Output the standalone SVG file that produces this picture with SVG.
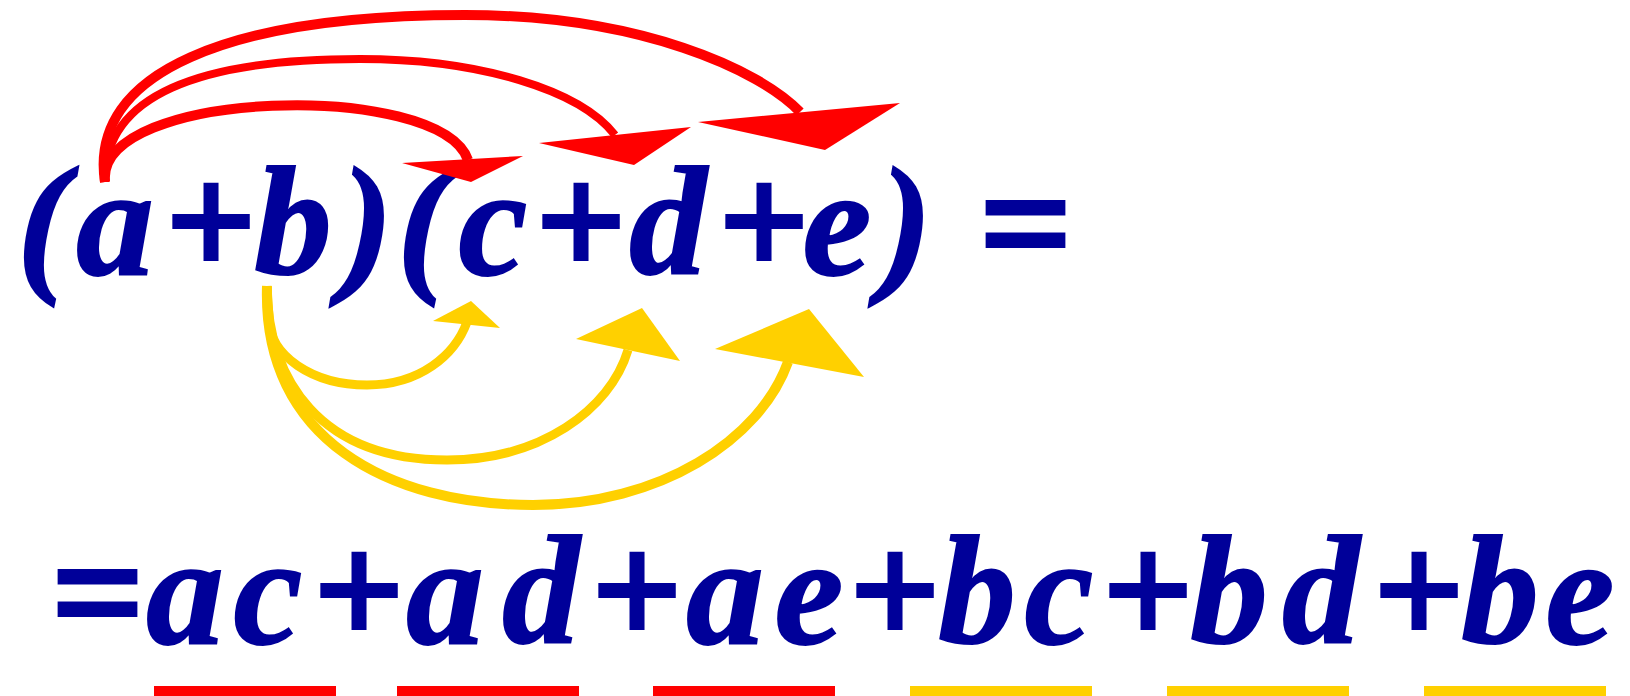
<svg xmlns="http://www.w3.org/2000/svg" width="1630" height="696" viewBox="0 0 1630 696">
<style>
.t{font-family:"Liberation Serif","Times New Roman",serif;font-weight:bold;font-style:italic;font-size:155px;fill:#000099;stroke:#000099;stroke-width:2;text-anchor:middle}
.o{font-family:"Liberation Serif","Times New Roman",serif;font-weight:bold;font-size:158px;fill:#000099;stroke:#000099;stroke-width:4;text-anchor:middle}
.r{fill:none;stroke:#FF0000;stroke-linecap:butt}
.y{fill:none;stroke:#FFD000;stroke-linecap:butt}
.rh{fill:#FF0000}
.yh{fill:#FFD000}
</style>
<rect width="1630" height="696" fill="#FFFFFF"/>
<g id="lhs">
<text class="t" x="43" y="274">(</text>
<text class="t" x="115" y="274">a</text>
<text class="o" x="211" y="275">+</text>
<text class="t" x="293" y="274">b</text>
<text class="t" x="367" y="274">)</text>
<text class="t" x="423" y="274">(</text>
<text class="t" x="493" y="274">c</text>
<text class="o" x="581" y="275">+</text>
<text class="t" x="668" y="274">d</text>
<text class="o" x="764" y="275">+</text>
<text class="t" x="837" y="274">e</text>
<text class="t" x="906" y="274">)</text>
<text class="o" x="1026" y="278" style="font-size:163px">=</text>
</g>
<g id="rhs">
<text class="o" x="98" y="647" style="font-size:163px">=</text>
<text class="t" x="185" y="643">a</text>
<text class="t" x="268" y="643">c</text>
<text class="o" x="359" y="644">+</text>
<text class="t" x="445" y="643">a</text>
<text class="t" x="541" y="643">d</text>
<text class="o" x="637" y="644">+</text>
<text class="t" x="725" y="643">a</text>
<text class="t" x="809" y="643">e</text>
<text class="o" x="895" y="644">+</text>
<text class="t" x="977" y="643">b</text>
<text class="t" x="1059" y="643">c</text>
<text class="o" x="1148" y="644">+</text>
<text class="t" x="1229" y="643">b</text>
<text class="t" x="1321" y="643">d</text>
<text class="o" x="1419" y="644">+</text>
<text class="t" x="1500" y="643">b</text>
<text class="t" x="1580" y="643">e</text>
</g>
<g id="underlines">
<rect x="154" y="686" width="182" height="10" fill="#FF0000"/>
<rect x="397" y="686" width="182" height="10" fill="#FF0000"/>
<rect x="653" y="686" width="182" height="10" fill="#FF0000"/>
<rect x="910" y="686" width="182" height="10" fill="#FFD000"/>
<rect x="1167" y="686" width="182" height="10" fill="#FFD000"/>
<rect x="1424" y="686" width="182" height="10" fill="#FFD000"/>
</g>
<g id="connectors">
<path class="r" stroke-width="10" d="M105,182 C95,88 440,80 468,160"/>
<path class="r" stroke-width="8" d="M105,182 C103,95 200,59 360,59 C480,59 580,90 615,135"/>
<path class="r" stroke-width="10" d="M105,182 C88,72 230,15 465,15 C640,15 760,70 800,112"/>
<polygon class="rh" points="402,163 523,156 471,182"/>
<polygon class="rh" points="539,143 691,127 634,165"/>
<polygon class="rh" points="698,122 900,103 825,150"/>
<path class="y" stroke-width="9" d="M267,286 L269,318 C269,356 313,385 367,385 C420,385 455,355 467,322"/>
<path class="y" stroke-width="9" d="M267,286 C268,380 320,460 447,460 C540,460 610,410 628,350"/>
<path class="y" stroke-width="10" d="M267,286 C262,440 390,505 533,505 C660,505 760,440 788,362"/>
<polygon class="yh" points="433,321 471,301 500,328"/>
<polygon class="yh" points="576,339 642,308 680,361"/>
<polygon class="yh" points="715,349 809,309 864,377"/>
</g>
</svg>
